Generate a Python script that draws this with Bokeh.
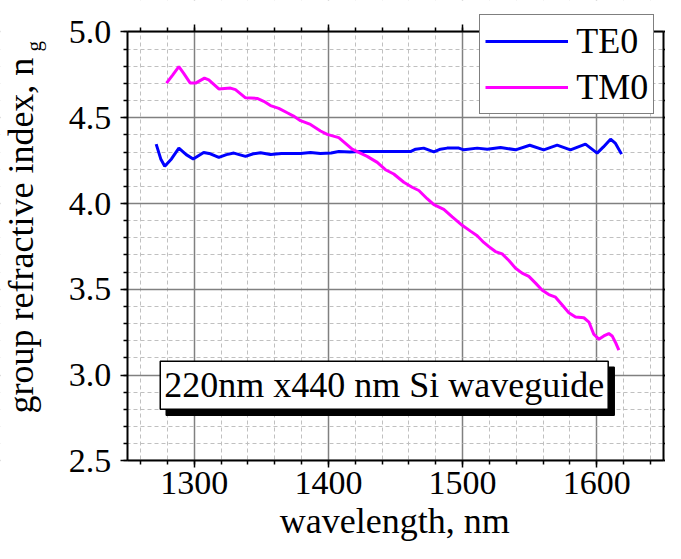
import math
from bokeh.plotting import figure
from bokeh.models import (Label, Legend, LegendItem, LinearAxis, Grid,
                          SingleIntervalTicker, Range1d, BoxAnnotation,
                          PrintfTickFormatter)
from bokeh.embed import file_html
from bokeh.resources import INLINE

# ---- data ----
te0_wl = [1271.6, 1275, 1278, 1283, 1288.5, 1294, 1299.2, 1307, 1312, 1318.3,
          1324, 1329.5, 1338.2, 1344, 1349.4, 1356.8, 1365, 1372, 1379.2, 1386.6,
          1394, 1402, 1407.7, 1416, 1424, 1440, 1461.2, 1465, 1471, 1478.6,
          1483.5, 1488.5, 1497.2, 1501, 1510.9, 1518.4, 1528.3, 1539.5, 1550.1,
          1560.5, 1570.5, 1580.4, 1591.6, 1600.3, 1605, 1610.3, 1614, 1618.5]
te0_ng = [4.346, 4.26, 4.217, 4.26, 4.323, 4.285, 4.259, 4.298, 4.29, 4.269,
          4.285, 4.294, 4.275, 4.29, 4.296, 4.286, 4.292, 4.292, 4.292, 4.298,
          4.292, 4.294, 4.303, 4.300, 4.303, 4.303, 4.303, 4.317, 4.323, 4.301,
          4.317, 4.323, 4.323, 4.313, 4.323, 4.317, 4.327, 4.313, 4.340,
          4.313, 4.340, 4.313, 4.346, 4.294, 4.33, 4.375, 4.35, 4.288]

tm0_wl = [1279.3, 1284, 1288.5, 1292, 1297, 1301, 1307.6, 1310.8, 1318.3, 1327,
          1330.7, 1338.2, 1346.9, 1351.8, 1356.8, 1363, 1369.3, 1374, 1379.2,
          1386.6, 1394.1, 1399.1, 1407.7, 1412.7, 1417.7, 1422.6, 1428.9, 1436.4,
          1442.5, 1448.7, 1456.2, 1462.4, 1467.4, 1473.6, 1478.6, 1486, 1492.3,
          1499.7, 1505.9, 1510.9, 1515.8, 1519.6, 1524.5, 1529.5, 1534.5, 1539.5,
          1544.4, 1549.4, 1554.4, 1559.4, 1564.3, 1569.3, 1574.3, 1579.2, 1584.2,
          1590.4, 1594.2, 1597.8, 1601.6, 1605.3, 1609, 1611.5, 1614, 1616.5]
tm0_ng = [4.702, 4.75, 4.798, 4.76, 4.702, 4.702, 4.731, 4.721, 4.668, 4.673,
          4.664, 4.616, 4.613, 4.596, 4.571, 4.555, 4.529, 4.51, 4.483,
          4.461, 4.423, 4.403, 4.384, 4.351, 4.317, 4.298, 4.275, 4.240,
          4.197, 4.172, 4.124, 4.095, 4.076, 4.028, 3.993, 3.966, 3.922,
          3.873, 3.839, 3.812, 3.773, 3.749, 3.720, 3.706, 3.668, 3.623,
          3.594, 3.575, 3.536, 3.494, 3.469, 3.454, 3.408, 3.363, 3.338,
          3.334, 3.309, 3.238, 3.209, 3.228, 3.242, 3.228, 3.190, 3.145]

series_names = ["TE0", "TM0"]
series_colors = ["#0000FF", "#FF00FF"]
x_label = "wavelength, nm"
y_label_main = "group refractive index, n"
y_label_sub = "g"
note_text = "220nm x440 nm Si waveguide"

# axes box of the chart (data units)
X0, X1 = 1250, 1650
Y0, Y1 = 2.5, 5.0

FONT = "Liberation Serif"
W, H = 665, 543
# the plot frame covers the whole canvas; axes are pinned at the box edges
p = figure(width=W, height=H, x_range=Range1d(1155.55, 1651.27),
           y_range=Range1d(2.01784, 5.18365), output_backend="svg",
           toolbar_location=None, x_axis_type=None, y_axis_type=None,
           min_border=0, min_border_left=0, min_border_right=0,
           min_border_top=0, min_border_bottom=0)
p.outline_line_color = None
p.background_fill_color = "white"
p.border_fill_color = "white"

xt = SingleIntervalTicker(interval=100, num_minor_ticks=5)
yt = SingleIntervalTicker(interval=0.5, num_minor_ticks=5)

gx = Grid(dimension=0, ticker=xt)
gy = Grid(dimension=1, ticker=yt)
for g in (gx, gy):
    g.grid_line_color = "#808080"
    g.grid_line_width = 1.5
    g.minor_grid_line_color = "#c0c0c0"
    g.minor_grid_line_width = 1
    g.minor_grid_line_dash = "4 3"
    p.add_layout(g)

# white masks outside the axes box (drawn over the grid, under the axes)
for kw in (dict(right=X0), dict(left=X1), dict(bottom=Y1), dict(top=Y0)):
    p.add_layout(BoxAnnotation(fill_color="white", fill_alpha=1,
                               line_color=None, level="underlay", **kw))

def style_axis(ax, labels):
    ax.axis_line_color = "black"
    ax.axis_line_width = 2
    ax.major_tick_line_color = "black"
    ax.major_tick_line_width = 1.5
    ax.minor_tick_line_color = "black"
    ax.minor_tick_line_width = 1.5
    ax.major_tick_in = 0
    ax.major_tick_out = 7
    ax.minor_tick_in = 0
    ax.minor_tick_out = 4
    if labels:
        ax.major_label_text_font = FONT
        ax.major_label_text_font_size = "34px"
        ax.major_label_text_color = "black"
    else:
        ax.major_label_text_color = None

bx = LinearAxis(ticker=xt, fixed_location=Y0, bounds=(X0, X1))
style_axis(bx, True)
bx.major_label_standoff = 4
p.add_layout(bx, "below")
lx = LinearAxis(ticker=yt, fixed_location=X0, bounds=(Y0, Y1),
                formatter=PrintfTickFormatter(format="%.1f"))
style_axis(lx, True)
lx.major_label_standoff = 9
p.add_layout(lx, "left")
tx = LinearAxis(ticker=xt, fixed_location=Y1, bounds=(X0, X1))
style_axis(tx, False)
p.add_layout(tx, "above")
rx = LinearAxis(ticker=yt, fixed_location=X1, bounds=(Y0, Y1))
style_axis(rx, False)
p.add_layout(rx, "right")

r_te = p.line(te0_wl, te0_ng, line_color=series_colors[0], line_width=3)
r_tm = p.line(tm0_wl, tm0_ng, line_color=series_colors[1], line_width=3)

legend = Legend(items=[LegendItem(label=series_names[0], renderers=[r_te]),
                       LegendItem(label=series_names[1], renderers=[r_tm])],
                location=(479.3, 429), orientation="vertical",
                border_line_color="black", border_line_width=1.5,
                background_fill_color="white", background_fill_alpha=1,
                padding=5, spacing=4, margin=0, glyph_width=83,
                glyph_height=40, label_height=40, label_standoff=8,
                label_text_font=FONT, label_text_font_size="36px",
                label_text_color="black")
p.add_layout(legend)

# annotation box with shadow
cx, cy = 1441.6, 2.94
shadow = Label(x=cx, y=cy, x_offset=6, y_offset=-6, text=note_text,
               text_font=FONT, text_font_size="36px", text_color="black",
               text_align="center", text_baseline="middle",
               background_fill_color="black", border_line_color="black",
               border_line_width=1.5, padding=4)
note = Label(x=cx, y=cy, text=note_text, text_font=FONT,
             text_font_size="36px", text_color="black", text_align="center",
             text_baseline="middle", background_fill_color="white",
             border_line_color="black", border_line_width=1.5, padding=4)
p.add_layout(shadow)
p.add_layout(note)

# axis titles (anchored at the middle of their text boxes)
p.add_layout(Label(x=1449.4, y=2.1467, text=x_label, text_font=FONT,
                   text_font_size="36px", text_color="black",
                   text_align="center", text_baseline="middle"))
p.add_layout(Label(x=1170.76, y=2.7758, angle=math.pi / 2, text=y_label_main,
                   text_font=FONT, text_font_size="36px", text_color="black",
                   text_align="left", text_baseline="middle"))
p.add_layout(Label(x=1180.82, y=4.8863, angle=math.pi / 2, text=y_label_sub,
                   text_font=FONT, text_font_size="21px", text_color="black",
                   text_align="left", text_baseline="middle"))

open("out.html", "w").write(file_html(p, INLINE))
